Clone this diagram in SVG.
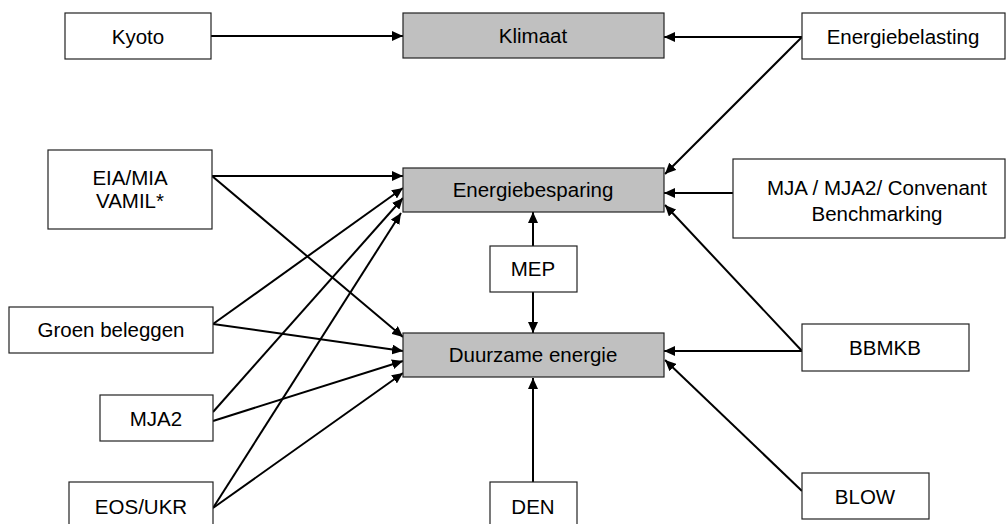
<svg xmlns="http://www.w3.org/2000/svg" width="1006" height="524" viewBox="0 0 1006 524">
<style>
.box{fill:#fff;stroke:#222;stroke-width:1.2}
.hub{fill:#c0c0c0;stroke:#222;stroke-width:1.2}
text{font-family:"Liberation Sans",Arial,sans-serif;font-size:20.5px;fill:#000;text-anchor:middle}
.c line{stroke:#000;stroke-width:2;marker-end:url(#ah)}
</style>
<defs>
<marker id="ah" markerUnits="userSpaceOnUse" markerWidth="11" markerHeight="10" refX="11" refY="5" orient="auto" viewBox="0 0 11 10">
<path d="M0,0 L11,5 L0,10 z" fill="#000"/>
</marker>
</defs>
<rect width="1006" height="524" fill="#fff"/>
<g class="c" id="connectors">
<line x1="211" y1="36" x2="403" y2="36"/>
<line x1="802" y1="37" x2="664" y2="37"/>
<line x1="802" y1="37" x2="665" y2="174"/>
<line x1="212" y1="176" x2="403" y2="176"/>
<line x1="212" y1="176" x2="403" y2="337"/>
<line x1="213" y1="324" x2="403" y2="188"/>
<line x1="213" y1="324" x2="403" y2="351"/>
<line x1="213" y1="412" x2="403" y2="198"/>
<line x1="213" y1="421" x2="403" y2="361"/>
<line x1="213" y1="508" x2="401" y2="213"/>
<line x1="213" y1="508" x2="403" y2="373"/>
<line x1="733" y1="193" x2="664" y2="193"/>
<line x1="802" y1="351" x2="665" y2="205"/>
<line x1="802" y1="351" x2="664" y2="351"/>
<line x1="802" y1="491" x2="665" y2="360"/>
<line x1="533" y1="246" x2="533" y2="212"/>
<line x1="533" y1="292" x2="533" y2="333"/>
<line x1="533" y1="482" x2="533" y2="378"/>
</g>
<g id="kyoto"><rect class="box" x="65" y="13" width="146" height="46"/><text x="138" y="44">Kyoto</text></g>
<g id="klimaat"><rect class="hub" x="403" y="13" width="261" height="45"/><text x="533" y="43">Klimaat</text></g>
<g id="energiebelasting"><rect class="box" x="802" y="13" width="203" height="46"/><text x="903" y="44">Energiebelasting</text></g>
<g id="eia"><rect class="box" x="48" y="150" width="164" height="79"/><text x="130" y="185">EIA/MIA</text><text x="130" y="208">VAMIL*</text></g>
<g id="energiebesparing"><rect class="hub" x="403" y="168" width="261" height="44"/><text x="533" y="197">Energiebesparing</text></g>
<g id="mja"><rect class="box" x="733" y="159" width="272" height="79"/><text x="877" y="195">MJA / MJA2/ Convenant</text><text x="877" y="221">Benchmarking</text></g>
<g id="mep"><rect class="box" x="490" y="246" width="87" height="46"/><text x="533" y="276">MEP</text></g>
<g id="groen"><rect class="box" x="9" y="307" width="204" height="46"/><text x="111" y="337">Groen beleggen</text></g>
<g id="duurzame"><rect class="hub" x="403" y="333" width="261" height="44"/><text x="533" y="362">Duurzame energie</text></g>
<g id="bbmkb"><rect class="box" x="802" y="324" width="167" height="47"/><text x="885" y="355">BBMKB</text></g>
<g id="mja2"><rect class="box" x="100" y="395" width="113" height="46"/><text x="156" y="426">MJA2</text></g>
<g id="eos"><rect class="box" x="69" y="482" width="144" height="50"/><text x="141" y="514">EOS/UKR</text></g>
<g id="den"><rect class="box" x="490" y="482" width="87" height="50"/><text x="533" y="514">DEN</text></g>
<g id="blow"><rect class="box" x="802" y="473" width="127" height="46"/><text x="865" y="504">BLOW</text></g>
</svg>
